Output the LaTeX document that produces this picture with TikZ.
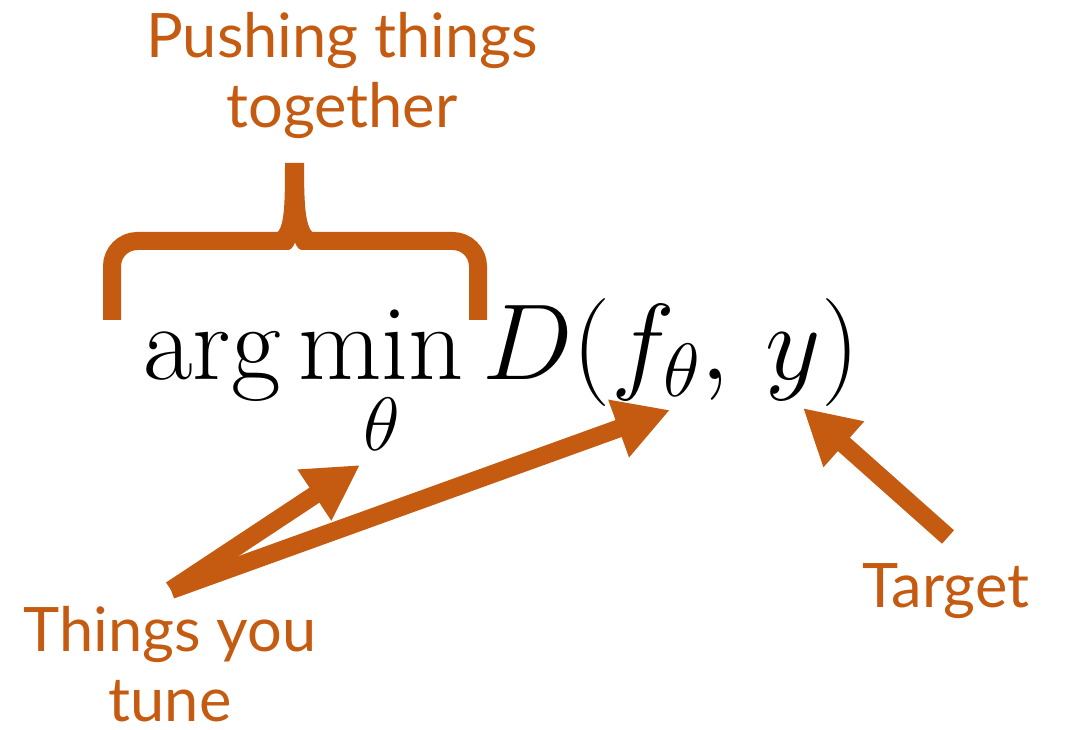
\documentclass[tikz,border=0pt]{standalone}
\usepackage{fix-cm}
\usepackage{amsmath, amssymb}
\usepackage{fontspec}
\newfontfamily\rotulofonte{Lato}
\usepackage{xcolor}
\usetikzlibrary{arrows.meta}
\definecolor{laranja}{HTML}{C55A11}

\begin{document}
\begin{tikzpicture}[x=0.75pt, y=-0.75pt,
    rotulo/.style={text=laranja, align=center, inner sep=0pt,
        font=\rotulofonte\fontsize{46}{52.5}\selectfont},
    seta/.style={laranja, line width=13.5pt,
        -{Triangle[length=41pt, width=43pt]}}]
    \useasboundingbox (0,0) rectangle (1066,730);

    % formula
    \node[anchor=base west, inner sep=0pt, font=\fontsize{81}{90}\selectfont]
        (formula) at (143,380) {$\displaystyle\arg\min_{\theta} D(f_{\theta},\, y)$};

    % chave
    \draw[laranja, line width=13.5pt, rounded corners=19pt]
        (112,320) -- (112,241) -- (478,241) -- (478,320);
    \fill[laranja] (285,163) -- (304,163)
        .. controls (304,215) and (306,232) .. (318,236) -- (272,236)
        .. controls (284,232) and (285,215) .. (285,163) -- cycle;
    \fill[white] (286,251) .. controls (292,249) .. (295,243)
        .. controls (298,249) .. (304,251) -- cycle;

    % rotulos
    \node[rotulo] (juntar) at (342,76) {Pushing things\\together};
    \node[rotulo] (ajustar) at (170,664) {Things you\\tune};
    \node[rotulo, anchor=base] (alvo) at (946,607) {Target};

    % pontas das setas
    \coordinate (fonte) at (171,590);
    \coordinate (pontaTheta) at (360,465);
    \coordinate (pontaF) at (670,410);
    \coordinate (caudaY) at (948,537);
    \coordinate (pontaY) at (803,408);

    % setas
    \draw[seta] (fonte) -- (pontaTheta);
    \draw[seta] (fonte) -- (pontaF);
    \draw[seta] (caudaY) -- (pontaY);
\end{tikzpicture}
\end{document}
